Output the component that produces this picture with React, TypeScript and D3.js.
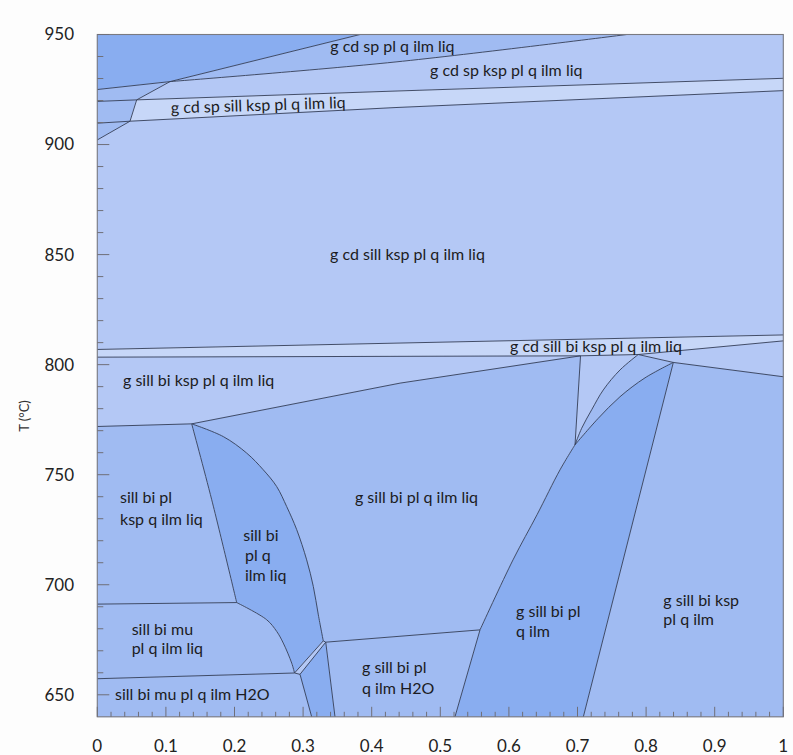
import React from "react";
import * as d3 from "d3";

type Pt = [number, number];

const WIDTH = 793;
const HEIGHT = 755;
const PLOT = { left: 97.3, right: 783.3, top: 34.5, bottom: 716.8 };

// Axis domains: composition (x) and temperature in °C (T)
const X_DOMAIN: Pt = [0, 1];
const T_DOMAIN: Pt = [640, 950];
const X_TICK_LABELS = ["0", "0.1", "0.2", "0.3", "0.4", "0.5", "0.6", "0.7", "0.8", "0.9", "1"];
const T_TICK_LABELS = [650, 700, 750, 800, 850, 900, 950];

// Invariant points [x, T]
const J1: Pt = [0.106, 928.6];
const C1: Pt = [0.0574, 920.3];
const C2: Pt = [0.0477, 910.6];
const K1: Pt = [0.7044, 804.0];
const K2: Pt = [0.7886, 804.6];
const K3: Pt = [0.8397, 801.0];
const M1: Pt = [0.6964, 763.6];
const Q1: Pt = [0.1376, 773.1];
const S1: Pt = [0.2032, 691.9];
const B0: Pt = [0.2875, 659.9];
const B1: Pt = [0.2955, 659.3];
const H1: Pt = [0.5579, 679.5];
const H2: Pt = [0.3294, 674.5];
const H3: Pt = [0.333, 673.9];

// Reaction lines [x, T]
const L1_LINE: Pt[] = [[0, 925.0], J1];
const L2_LINE: Pt[] = [J1, [0.383, 950]];
const L3_LINE: Pt[] = [J1, [0.434, 937.5], [0.772, 950]];
const SA_UP_LEFT: Pt[] = [[0, 919.6], C1];
const SA_UP_RIGHT: Pt[] = [C1, [0.434, 924.3], [1, 930.1]];
const SA_LO_LEFT: Pt[] = [[0, 909.7], C2];
const SA_LO_RIGHT: Pt[] = [C2, [0.434, 916.8], [1, 924.5]];
const CUT_1: Pt[] = [J1, C1];
const CUT_2: Pt[] = [C1, C2];
const CUT_3: Pt[] = [C2, [0, 902.1]];
const SB_UP: Pt[] = [[0, 806.9], [1, 813.5]];
const SB_LO_1: Pt[] = [[0, 803.4], K1];
const SB_LO_2: Pt[] = [K1, K2];
const SB_LO_3: Pt[] = [K2, [1, 810.8]];
const KL_1: Pt[] = [K2, K3];
const KL_2: Pt[] = [K3, [1, 794.5]];
const K1_M1: Pt[] = [K1, M1];
const K2_M1: Pt[] = [K2, [0.762, 797.6], [0.7376, 788.5], [0.7207, 779.5], [0.7061, 771.1], M1];
const DL_TOP: Pt[] = [K3, [0.7984, 794.0], [0.7619, 785.4], [0.7299, 775.5], M1];
const DL_MID: Pt[] = [M1, [0.6745, 752.2], [0.641, 731.8], [0.606, 711.3], H1];
const DL_BOT: Pt[] = [H1, [0.5214, 640]];
const DR_LINE: Pt[] = [K3, [0.7085, 640]];
const QK_1: Pt[] = [[0, 771.9], Q1];
const QK_2: Pt[] = [Q1, [0.4413, 791.6], K1];
const Q_LEFT: Pt[] = [Q1, [0.1668, 738.6], S1];
const Q_RIGHT: Pt[] = [
  Q1, [0.1837, 767.3], [0.2178, 759.8], [0.242, 752.2], [0.2615, 744.6], [0.2761, 735.5],
  [0.2907, 725.0], [0.3052, 711.3], [0.3149, 699.2], [0.3222, 686.3], H2,
];
const MU_1: Pt[] = [[0, 691.2], S1];
const MU_CURVE: Pt[] = [S1, [0.2469, 684.1], [0.2615, 678.8], [0.2711, 673.5], [0.2834, 664.4], B0];
const MU_2: Pt[] = [[0, 657.3], B0];
const SLIVER_A: Pt[] = [B0, H2];
const SLIVER_B: Pt[] = [B1, H3];
const B0_B1: Pt[] = [B0, B1];
const H2_H3: Pt[] = [H2, H3];
const WEDGE_L: Pt[] = [B1, [0.3125, 640]];
const WEDGE_R: Pt[] = [H3, [0.3465, 640]];
const H2O_LINE: Pt[] = [H3, H1];

const EDGES: Record<string, { pts: Pt[]; smooth?: boolean }> = {
  L1: { pts: L1_LINE },
  L2: { pts: L2_LINE },
  L3: { pts: L3_LINE, smooth: true },
  SAUL: { pts: SA_UP_LEFT },
  SAUR: { pts: SA_UP_RIGHT },
  SALL: { pts: SA_LO_LEFT },
  SALR: { pts: SA_LO_RIGHT },
  CUT1: { pts: CUT_1 },
  CUT2: { pts: CUT_2 },
  CUT3: { pts: CUT_3 },
  SBU: { pts: SB_UP },
  SBL1: { pts: SB_LO_1 },
  SBL2: { pts: SB_LO_2 },
  SBL3: { pts: SB_LO_3 },
  KL1: { pts: KL_1 },
  KL2: { pts: KL_2 },
  K1M1: { pts: K1_M1 },
  K2M1: { pts: K2_M1, smooth: true },
  DLT: { pts: DL_TOP, smooth: true },
  DLM: { pts: DL_MID, smooth: true },
  DLB: { pts: DL_BOT },
  DR: { pts: DR_LINE },
  QK1: { pts: QK_1 },
  QK2: { pts: QK_2 },
  QL: { pts: Q_LEFT, smooth: true },
  QR: { pts: Q_RIGHT, smooth: true },
  MU1: { pts: MU_1 },
  MUC: { pts: MU_CURVE, smooth: true },
  MU2: { pts: MU_2 },
  SLVA: { pts: SLIVER_A },
  SLVB: { pts: SLIVER_B },
  B0B1: { pts: B0_B1 },
  H2H3: { pts: H2_H3 },
  WL: { pts: WEDGE_L },
  WR: { pts: WEDGE_R },
  H2O: { pts: H2O_LINE },
};

const DARK = "#89adf0";
const MED = "#a0bbf2";
const LIGHT = "#b4c8f5";
const PALE = "#c7d7f8";

type Part = string | Pt[];
// Stability fields, each outlined by its bounding reaction lines ("-" = traversed backwards)
const FIELDS: { fill: string; parts: Part[] }[] = [
  { fill: DARK, parts: [[[0, 950], [0, 925]], "L1", "L2"] },
  { fill: MED, parts: ["L2", "-L3"] },
  { fill: MED, parts: ["L1", "CUT1", "-SAUL"] },
  { fill: LIGHT, parts: ["L3", [[1, 950], [1, 930.1]], "-SAUR", "-CUT1"] },
  { fill: MED, parts: ["SAUL", "CUT2", "-SALL"] },
  { fill: PALE, parts: ["SAUR", "-SALR", "-CUT2"] },
  { fill: MED, parts: ["SALL", "CUT3"] },
  { fill: LIGHT, parts: ["-CUT3", "SALR", "-SBU"] },
  { fill: PALE, parts: ["SBU", "-SBL3", "-SBL2", "-SBL1"] },
  { fill: LIGHT, parts: ["SBL1", "-QK2", "-QK1"] },
  { fill: LIGHT, parts: ["SBL2", "K2M1", "-K1M1"] },
  { fill: MED, parts: ["KL1", "DLT", "-K2M1"] },
  { fill: LIGHT, parts: ["SBL3", "-KL2", "-KL1"] },
  { fill: DARK, parts: ["DR", "-DLB", "-DLM", "-DLT"] },
  { fill: MED, parts: ["KL2", [[1, 640]], "-DR"] },
  { fill: MED, parts: ["QK2", "K1M1", "DLM", "-H2O", "-H2H3", "-QR"] },
  { fill: DARK, parts: ["QR", "-SLVA", "-MUC", "-QL"] },
  { fill: MED, parts: ["QK1", "QL", "-MU1"] },
  { fill: MED, parts: ["MU1", "MUC", "-MU2"] },
  { fill: MED, parts: ["MU2", "B0B1", "WL", [[0, 640]]] },
  { fill: LIGHT, parts: ["SLVA", "H2H3", "-SLVB", "-B0B1"] },
  { fill: DARK, parts: ["SLVB", "WR", "-WL"] },
  { fill: MED, parts: ["H2O", "DLB", "-WR"] },
];

// Assemblage labels: text, x, baseline T, rotation (deg)
const FIELD_LABELS: { text: string; x: number; t: number; rot?: number }[] = [
  { text: "g cd sp pl q ilm liq", x: 0.3396, t: 942.0 },
  { text: "g cd sp ksp pl q ilm liq", x: 0.485, t: 931.1 },
  { text: "g cd sp sill ksp pl q ilm liq", x: 0.1074, t: 914.1, rot: -1.8 },
  { text: "g cd sill ksp pl q ilm liq", x: 0.3392, t: 847.6 },
  { text: "g cd sill bi ksp pl q ilm liq", x: 0.6017, t: 805.8 },
  { text: "g sill bi ksp pl q ilm liq", x: 0.0375, t: 790.3 },
  { text: "sill bi pl", x: 0.0332, t: 737.2 },
  { text: "ksp q ilm liq", x: 0.0332, t: 727.2 },
  { text: "sill bi", x: 0.2128, t: 719.7 },
  { text: "pl q", x: 0.2153, t: 710.6 },
  { text: "ilm liq", x: 0.2153, t: 701.6 },
  { text: "g sill bi pl q ilm liq", x: 0.3756, t: 737.2 },
  { text: "sill bi mu", x: 0.0501, t: 677.3 },
  { text: "pl q ilm liq", x: 0.0501, t: 668.4 },
  { text: "sill bi mu pl q ilm H2O", x: 0.0259, t: 647.7 },
  { text: "g sill bi pl", x: 0.3859, t: 660.0 },
  { text: "q ilm H2O", x: 0.3859, t: 650.3 },
  { text: "g sill bi pl", x: 0.6104, t: 685.2 },
  { text: "q ilm", x: 0.6104, t: 676.4 },
  { text: "g sill bi ksp", x: 0.8251, t: 690.4 },
  { text: "pl q ilm", x: 0.8251, t: 681.7 },
];

const FONT = "Lato, 'Open Sans', sans-serif";

export default function App() {
  const xs = d3.scaleLinear().domain(X_DOMAIN).range([PLOT.left, PLOT.right]);
  const ys = d3.scaleLinear().domain(T_DOMAIN).range([PLOT.bottom, PLOT.top]);

  const straight = d3.line<Pt>().x((d) => xs(d[0])).y((d) => ys(d[1]));
  const smooth = d3
    .line<Pt>()
    .x((d) => xs(d[0]))
    .y((d) => ys(d[1]))
    .curve(d3.curveCatmullRom.alpha(0.5));

  const partPath = (p: Part, first: boolean): string => {
    if (typeof p === "string") {
      const rev = p.startsWith("-");
      const e = EDGES[rev ? p.slice(1) : p];
      const pts = rev ? [...e.pts].reverse() : e.pts;
      const d = (e.smooth ? smooth : straight)(pts) || "";
      return first ? d : "L" + d.slice(1);
    }
    return p
      .map((q, i) => `${first && i === 0 ? "M" : "L"}${xs(q[0])},${ys(q[1])}`)
      .join("");
  };

  const fieldPath = (parts: Part[]) =>
    parts.map((p, i) => partPath(p, i === 0)).join("") + "Z";

  const xMinor = d3.range(0, 51).map((i) => i / 50);
  const tMinor = d3.range(650, 951, 10);

  return (
    <svg
      width={WIDTH}
      height={HEIGHT}
      style={{ position: "absolute", left: 0, top: 0, background: "#fdfdfd" }}
    >
      <g>
        {FIELDS.map((f, i) => (
          <path key={i} d={fieldPath(f.parts)} fill={f.fill} stroke={f.fill} strokeWidth={0.4} />
        ))}
      </g>
      <g fill="none" stroke="#333d57" strokeWidth={0.9}>
        {Object.keys(EDGES).map((k) => (
          <path key={k} d={partPath(k, true)} />
        ))}
      </g>
      <rect
        x={PLOT.left}
        y={PLOT.top}
        width={PLOT.right - PLOT.left}
        height={PLOT.bottom - PLOT.top}
        fill="none"
        stroke="#7a7a80"
        strokeWidth={1.1}
      />
      <g stroke="#6f6f78" strokeWidth={1}>
        {xMinor.map((v, i) => (
          <line
            key={"xt" + i}
            x1={xs(v)}
            x2={xs(v)}
            y1={PLOT.bottom}
            y2={PLOT.bottom - (i % 5 === 0 ? 10 : 5)}
          />
        ))}
        {tMinor.map((v) => (
          <line
            key={"yt" + v}
            x1={PLOT.left}
            x2={PLOT.left + (v % 50 === 0 ? 12 : 6)}
            y1={ys(v)}
            y2={ys(v)}
          />
        ))}
      </g>
      <g fontFamily={FONT} fontSize={17} fill="#222">
        {X_TICK_LABELS.map((s, i) => (
          <text key={"xl" + i} x={xs(i / 10)} y={752} textAnchor="middle">
            {s}
          </text>
        ))}
        {T_TICK_LABELS.map((v) => (
          <text key={"yl" + v} x={74} y={ys(v)} dy="0.35em" textAnchor="end">
            {v}
          </text>
        ))}
      </g>
      <text
        transform="translate(24,416) rotate(-90)"
        textAnchor="middle"
        dy="0.35em"
        fontFamily={FONT}
        fontSize={13}
        fill="#333"
      >
        T (°C)
      </text>
      <g fontFamily={FONT} fontSize={16} fill="#1c1c22">
        {FIELD_LABELS.map((l, i) => (
          <text
            key={"fl" + i}
            x={xs(l.x)}
            y={ys(l.t)}
            transform={l.rot ? `rotate(${l.rot},${xs(l.x)},${ys(l.t)})` : undefined}
          >
            {l.text}
          </text>
        ))}
      </g>
    </svg>
  );
}
